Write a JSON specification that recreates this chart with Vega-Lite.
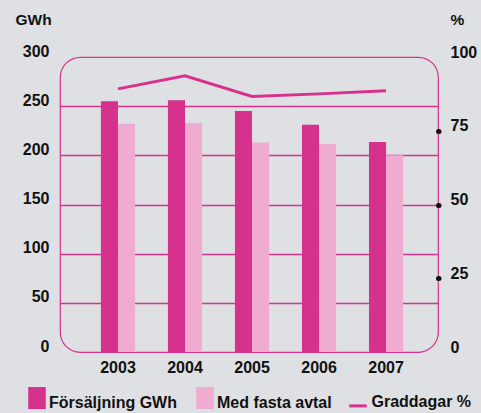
{
  "$schema": "https://vega.github.io/schema/vega-lite/v6.json",
  "width": 378,
  "height": 295,
  "autosize": {"type": "none"},
  "padding": {"left": 60, "top": 57, "right": 43, "bottom": 61},
  "background": "#dfe0e4",
  "config": {
    "view": {"stroke": "#d6318c", "strokeWidth": 1.2, "cornerRadius": 20, "fill": null},
    "font": "Liberation Sans",
    "axis": {
      "labelFont": "Liberation Sans",
      "labelFontWeight": "bold",
      "labelFontSize": 16,
      "labelColor": "#111111",
      "titleFont": "Liberation Sans",
      "titleFontWeight": "bold",
      "titleFontSize": 15.5,
      "titleColor": "#111111"
    },
    "legend": {
      "labelFont": "Liberation Sans",
      "labelFontWeight": "bold",
      "labelFontSize": 16,
      "labelColor": "#111111"
    }
  },
  "layer": [
    {
      "data": {
        "values": [
          {"year": "2003", "serie": "Försäljning GWh", "value": 255},
          {"year": "2003", "serie": "Med fasta avtal", "value": 232},
          {"year": "2004", "serie": "Försäljning GWh", "value": 256},
          {"year": "2004", "serie": "Med fasta avtal", "value": 233},
          {"year": "2005", "serie": "Försäljning GWh", "value": 245},
          {"year": "2005", "serie": "Med fasta avtal", "value": 213},
          {"year": "2006", "serie": "Försäljning GWh", "value": 231},
          {"year": "2006", "serie": "Med fasta avtal", "value": 211.5},
          {"year": "2007", "serie": "Försäljning GWh", "value": 213.5},
          {"year": "2007", "serie": "Med fasta avtal", "value": 200}
        ]
      },
      "mark": {"type": "bar"},
      "encoding": {
        "x": {
          "field": "year",
          "type": "nominal",
          "scale": {"paddingInner": 0.49, "paddingOuter": 0.565, "align": 0.54},
          "axis": {"title": null, "labelAngle": 0, "domain": false, "ticks": false, "labelPadding": 7, "labelBaseline": "top"}
        },
        "xOffset": {"field": "serie", "type": "nominal", "sort": ["Försäljning GWh", "Med fasta avtal"]},
        "y": {
          "field": "value",
          "type": "quantitative",
          "scale": {"domain": [0, 300], "nice": false},
          "axis": {
            "title": "GWh",
            "values": [0, 50, 100, 150, 200, 250, 300],
            "grid": true,
            "gridColor": {"condition": {"test": "datum.value == 0 || datum.value == 300", "value": "transparent"}, "value": "#d6318c"},
            "gridWidth": 1.5,
            "domain": false,
            "ticks": false,
            "labelPadding": 11,
            "labelOffset": -6,
            "titleAngle": 0,
            "titleX": -45,
            "titleY": -38,
            "titleAlign": "left",
            "titleBaseline": "middle"
          }
        },
        "fill": {
          "field": "serie",
          "type": "nominal",
          "scale": {"domain": ["Försäljning GWh", "Med fasta avtal"], "range": ["#d6318c", "#f0acd0"]},
          "legend": {
            "orient": "none",
            "legendX": -34,
            "legendY": 335,
            "direction": "horizontal",
            "title": null,
            "symbolType": "M-0.8,-1.45L0.8,-1.45L0.8,0.55L-0.8,0.55Z",
            "symbolSize": 484,
            "symbolStrokeWidth": 0,
            "symbolOpacity": 1,
            "columnPadding": 17,
            "labelOffset": 1,
            "padding": 0
          }
        }
      }
    },
    {
      "data": {
        "values": [
          {"year": "2003", "pct": 89.2},
          {"year": "2004", "pct": 93.6},
          {"year": "2005", "pct": 86.6},
          {"year": "2006", "pct": 87.5},
          {"year": "2007", "pct": 88.6}
        ]
      },
      "mark": {"type": "line", "strokeWidth": 3},
      "encoding": {
        "x": {"field": "year", "type": "nominal"},
        "y": {
          "field": "pct",
          "type": "quantitative",
          "scale": {"domain": [0, 100], "nice": false},
          "axis": {
            "orient": "right",
            "title": "%",
            "values": [0, 25, 50, 75, 100],
            "grid": false,
            "domain": false,
            "ticks": true,
            "tickSize": 0.5,
            "tickWidth": 5,
            "tickCap": "round",
            "tickColor": {"condition": {"test": "datum.value == 0 || datum.value == 100", "value": "transparent"}, "value": "#111111"},
            "labelPadding": 11.5,
            "labelOffset": -5,
            "titleAngle": 0,
            "titleX": 12,
            "titleY": -38,
            "titleAlign": "left",
            "titleBaseline": "middle"
          }
        },
        "stroke": {
          "datum": "Graddagar %",
          "type": "nominal",
          "scale": {"domain": ["Graddagar %"], "range": ["#d6318c"]},
          "legend": {
            "orient": "none",
            "legendX": 285.5,
            "legendY": 332,
            "direction": "horizontal",
            "title": null,
            "symbolType": "M-0.8,0.4L0.8,0.4",
            "symbolSize": 484,
            "symbolStrokeWidth": 3,
            "symbolFillColor": "transparent",
            "labelOffset": 1,
            "padding": 0
          }
        }
      }
    }
  ],
  "resolve": {"scale": {"y": "independent"}}
}
